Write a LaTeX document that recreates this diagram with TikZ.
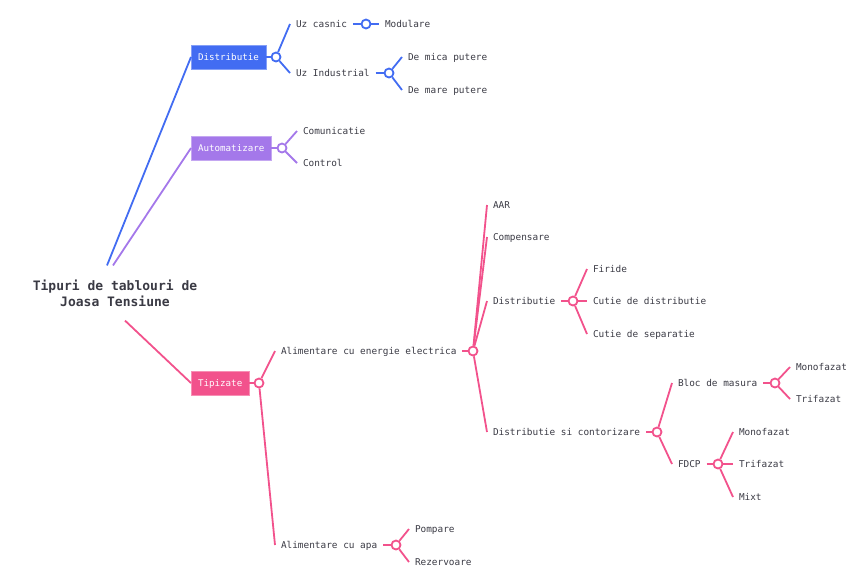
\documentclass[tikz,border=0pt]{standalone}
\usepackage{fontspec}
\setmonofont{DejaVu Sans Mono}
\usepackage{tikz}
\definecolor{dblue}{RGB}{66, 108, 242}
\definecolor{dpurple}{RGB}{164, 120, 234}
\definecolor{dpink}{RGB}{242, 82, 140}
\definecolor{dtext}{RGB}{58, 58, 68}
\tikzset{
  leaf/.style={anchor=west, inner sep=0pt, outer sep=6pt, text=dtext,
    font=\ttfamily\fontsize{9.4}{11}\selectfont, text height=8pt, text depth=1pt},
  topic/.style={anchor=west, fill=#1, draw=#1!65!white, line width=0.8pt, text=white,
    inner xsep=7pt, inner ysep=7.5pt, outer sep=0pt,
    font=\ttfamily\fontsize{9.2}{11}\selectfont, text height=8pt, text depth=1pt},
  knot/.style={circle, draw=#1, fill=white, line width=1.8pt, minimum size=9pt, inner sep=0pt},
  branch/.style={draw=#1, line width=1.8pt}
}

\begin{document}
\begin{tikzpicture}[x=1pt, y=-1pt]
  \useasboundingbox (0, 0) rectangle (846, 568);
  % root
  \node[align=center, inner xsep=0pt, inner ysep=14pt, text=dtext,
    font=\ttfamily\bfseries\fontsize{13}{16}\selectfont] (root) at (115, 293)
    {Tipuri de tablouri de\\Joasa Tensiune};

  % Distributie
  \node[topic=dblue] (dst) at (191, 57) {Distributie};
  \node[knot=dblue] (kdst) at (276, 57) {};
  \node[leaf] (casnic) at (290, 24) {Uz casnic};
  \node[knot=dblue] (kcas) at (366, 24) {};
  \node[leaf] (modul) at (379, 24) {Modulare};
  \node[leaf] (indus) at (290, 73) {Uz Industrial};
  \node[knot=dblue] (kind) at (389, 73) {};
  \node[leaf] (mica) at (402, 57) {De mica putere};
  \node[leaf] (mare) at (402, 90) {De mare putere};
  \draw[branch=dblue] ([xshift=-8]root.north) -- (dst.west);
  \draw[branch=dblue] (dst) -- (kdst);
  \draw[branch=dblue] (kdst) -- (casnic.west);
  \draw[branch=dblue] (kdst) -- (indus.west);
  \draw[branch=dblue] (casnic) -- (kcas);
  \draw[branch=dblue] (kcas) -- (modul.west);
  \draw[branch=dblue] (indus) -- (kind);
  \draw[branch=dblue] (kind) -- (mica.west);
  \draw[branch=dblue] (kind) -- (mare.west);

  % Automatizare
  \node[topic=dpurple] (aut) at (191, 148) {Automatizare};
  \node[knot=dpurple] (kaut) at (282, 148) {};
  \node[leaf] (comun) at (297, 131) {Comunicatie};
  \node[leaf] (ctrl) at (297, 163) {Control};
  \draw[branch=dpurple] ([xshift=-2]root.north) -- (aut.west);
  \draw[branch=dpurple] (aut) -- (kaut);
  \draw[branch=dpurple] (kaut) -- (comun.west);
  \draw[branch=dpurple] (kaut) -- (ctrl.west);

  % Tipizate
  \node[topic=dpink] (tip) at (191, 383) {Tipizate};
  \node[knot=dpink] (ktip) at (259, 383) {};
  \node[leaf] (alim) at (275, 351) {Alimentare cu energie electrica};
  \node[knot=dpink] (kalim) at (473, 351) {};
  \node[leaf] (apa) at (275, 545) {Alimentare cu apa};
  \node[knot=dpink] (kapa) at (396, 545) {};
  \node[leaf] (pomp) at (409, 529) {Pompare};
  \node[leaf] (rez) at (409, 562) {Rezervoare};
  \node[leaf] (aar) at (487, 205) {AAR};
  \node[leaf] (comp) at (487, 237) {Compensare};
  \node[leaf] (dsb) at (487, 301) {Distributie};
  \node[knot=dpink] (kdsb) at (573, 301) {};
  \node[leaf] (firide) at (587, 269) {Firide};
  \node[leaf] (cutd) at (587, 301) {Cutie de distributie};
  \node[leaf] (cuts) at (587, 334) {Cutie de separatie};
  \node[leaf] (cont) at (487, 432) {Distributie si contorizare};
  \node[knot=dpink] (kcont) at (657, 432) {};
  \node[leaf] (bloc) at (672, 383) {Bloc de masura};
  \node[knot=dpink] (kbloc) at (775, 383) {};
  \node[leaf] (bmono) at (790, 367) {Monofazat};
  \node[leaf] (btri) at (790, 399) {Trifazat};
  \node[leaf] (fdcp) at (672, 464) {FDCP};
  \node[knot=dpink] (kfdcp) at (718, 464) {};
  \node[leaf] (fmono) at (733, 432) {Monofazat};
  \node[leaf] (ftri) at (733, 464) {Trifazat};
  \node[leaf] (mixt) at (733, 497) {Mixt};
  \draw[branch=dpink] ([xshift=10]root.south) -- (tip.west);
  \draw[branch=dpink] (tip) -- (ktip);
  \draw[branch=dpink] (ktip) -- (alim.west);
  \draw[branch=dpink] (ktip) -- (apa.west);
  \draw[branch=dpink] (alim) -- (kalim);
  \foreach \t in {aar, comp, dsb, cont}
    \draw[branch=dpink] (kalim) -- (\t.west);
  \draw[branch=dpink] (dsb) -- (kdsb);
  \foreach \t in {firide, cutd, cuts}
    \draw[branch=dpink] (kdsb) -- (\t.west);
  \draw[branch=dpink] (cont) -- (kcont);
  \draw[branch=dpink] (kcont) -- (bloc.west);
  \draw[branch=dpink] (kcont) -- (fdcp.west);
  \draw[branch=dpink] (bloc) -- (kbloc);
  \draw[branch=dpink] (kbloc) -- (bmono.west);
  \draw[branch=dpink] (kbloc) -- (btri.west);
  \draw[branch=dpink] (fdcp) -- (kfdcp);
  \foreach \t in {fmono, ftri, mixt}
    \draw[branch=dpink] (kfdcp) -- (\t.west);
  \draw[branch=dpink] (apa) -- (kapa);
  \draw[branch=dpink] (kapa) -- (pomp.west);
  \draw[branch=dpink] (kapa) -- (rez.west);
\end{tikzpicture}
\end{document}
